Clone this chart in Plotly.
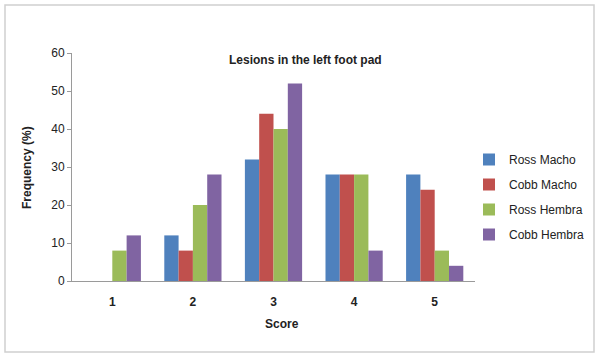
import plotly.graph_objects as go

scores = ["1", "2", "3", "4", "5"]
series_names = ["Ross Macho", "Cobb Macho", "Ross Hembra", "Cobb Hembra"]
ross_macho = [0, 12, 32, 28, 28]
cobb_macho = [0, 8, 44, 28, 24]
ross_hembra = [8, 20, 40, 28, 8]
cobb_hembra = [12, 28, 52, 8, 4]
y_ticks = [0, 10, 20, 30, 40, 50, 60]
colors = ["#4F81BD", "#C0504D", "#9BBB59", "#8064A2"]

W, H = 600, 360
L, R, T, B = 72, 125, 53, 79
pw, ph = W - L - R, H - T - B

def px_x(p):
    return (p - L) / pw

def px_y(p):
    return (H - B - p) / ph

fig = go.Figure()
for name, vals, col in zip(series_names, [ross_macho, cobb_macho, ross_hembra, cobb_hembra], colors):
    fig.add_trace(go.Bar(x=scores, y=vals, name=name, marker=dict(color=col, line=dict(width=0)),
                         legendgroup=name))

font = "Liberation Sans, Arial, sans-serif"
fig.update_layout(
    width=W, height=H,
    margin=dict(l=L, r=R, t=T, b=B, autoexpand=False),
    paper_bgcolor="white", plot_bgcolor="white",
    barmode="group", bargap=0.29, bargroupgap=0,
    font=dict(family=font, size=11, color="#222222"),
    showlegend=True,
    legend=dict(x=px_x(469), y=px_y(145), xanchor="left", yanchor="top",
                font=dict(family=font, size=12, color="#222222"),
                tracegroupgap=6, itemwidth=30, bgcolor="rgba(0,0,0,0)"),
    annotations=[
        dict(text="<b>Lesions in the left foot pad</b>", xref="paper", yref="paper",
             x=px_x(305), y=px_y(60), xanchor="center", yanchor="middle", showarrow=False,
             font=dict(family=font, size=12, color="#222222")),
        dict(text="<b>Frequency (%)</b>", xref="paper", yref="paper",
             x=px_x(27), y=px_y(168), xanchor="center", yanchor="middle", showarrow=False,
             textangle=-90, font=dict(family=font, size=12, color="#222222")),
        dict(text="<b>Score</b>", xref="paper", yref="paper",
             x=px_x(282), y=px_y(324), xanchor="center", yanchor="middle", showarrow=False,
             font=dict(family=font, size=12, color="#222222")),
    ],
    shapes=[
        dict(type="rect", xref="paper", yref="paper",
             x0=px_x(5), x1=px_x(594), y0=px_y(352), y1=px_y(5),
             line=dict(color="#D0D0D0", width=1.5), fillcolor="rgba(0,0,0,0)", layer="below"),
    ],
)
fig.update_xaxes(showline=True, linecolor="#9A9A9A", linewidth=1, showgrid=False,
                 ticks="", tickfont=dict(family=font, size=12, color="#222222"), ticklabelstandoff=10,
                 tickprefix="<b>", ticksuffix="</b>")
fig.update_yaxes(range=[0, 60], tickvals=y_ticks, showline=True, linecolor="#9A9A9A", linewidth=1,
                 showgrid=False, zeroline=False, ticks="outside", ticklen=4, tickcolor="#9A9A9A",
                 tickfont=dict(family=font, size=12, color="#222222"),
                 tickprefix="<b>", ticksuffix="</b>")

fig.write_html("out.html")
